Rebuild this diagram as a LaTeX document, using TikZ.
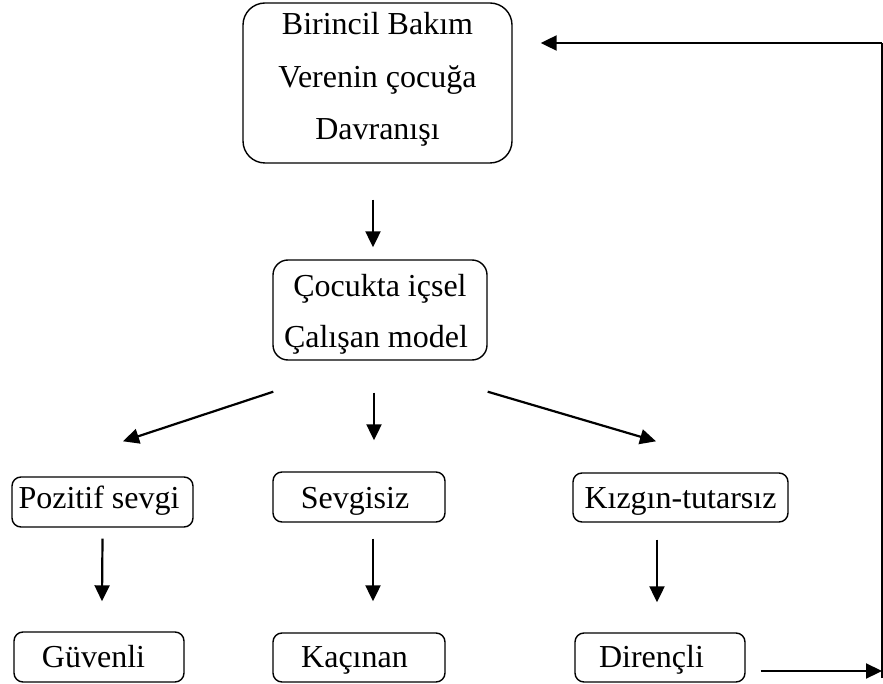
\documentclass[tikz,border=0pt]{standalone}
\usepackage{fontspec}
\setmainfont{Liberation Serif}
\usepackage{tikz}
\usetikzlibrary{arrows.meta}

\tikzset{
  kutu/.style={draw, line width=1.4pt, rounded corners=9pt, inner sep=0pt, align=center, font=\fontsize{32}{51}\selectfont},
  ok/.style={line width=2.2pt, -{Triangle[length=16pt,width=15pt]}},
  cizgi/.style={line width=2.2pt}
}

\begin{document}
\begin{tikzpicture}[x=1pt,y=-1pt]
\useasboundingbox (0,0) rectangle (883,684);
\node [kutu, rounded corners=22pt, minimum width=269pt, minimum height=160pt, font=\fontsize{32}{52.5}\selectfont] (bakim) at (377.5,83) {\rule{0pt}{24pt}Birincil Bakım\\Verenin çocuğa\\Davranışı\rule[-15pt]{0pt}{15pt}};
\node [kutu, rounded corners=15pt, minimum width=214pt, minimum height=100pt] (model) at (380,310) {\rule{0pt}{34pt}Çocukta içsel\\Çalışan model\rule[-9pt]{0pt}{9pt}\hspace*{8pt}};
\node [kutu, minimum width=181pt, minimum height=50pt, text height=21pt, text depth=9pt] (pozitif) at (102.5,502) {Pozitif sevgi\hspace*{7pt}};
\node [kutu, minimum width=172pt, minimum height=50pt, text height=26pt, text depth=4pt] (sevgisiz) at (359,497) {Sevgisiz\hspace*{8pt}};
\node [kutu, minimum width=215pt, minimum height=49pt, text height=25.5pt, text depth=4.5pt] (kizgin) at (680.5,497.5) {Kızgın-tutarsız};
\node [kutu, minimum width=170pt, minimum height=50pt, text height=25pt, text depth=5pt] (guvenli) at (99,657) {Güvenli\hspace*{11pt}};
\node [kutu, minimum width=172pt, minimum height=49pt, text height=24.5pt, text depth=5.5pt] (kacinan) at (359,657.5) {Kaçınan\hspace*{9pt}};
\node [kutu, minimum width=170pt, minimum height=49pt, text height=24.5pt, text depth=5.5pt] (direncli) at (660,657.5) {Dirençli\hspace*{17pt}};
\coordinate (kose1) at (882,671);
\coordinate (kose2) at (882,43);
\draw [ok] ([xshift=-4.5pt,yshift=-36pt]bakim.south) -- ([xshift=-7pt,yshift=12pt]model.north);
\draw [ok] ([xshift=1pt,yshift=-31pt]model.south west) -- ([xshift=20.5pt,yshift=35pt]pozitif.north);
\draw [ok] ([xshift=-6pt,yshift=-32pt]model.south) -- ([xshift=15pt,yshift=31pt]sevgisiz.north);
\draw [ok] ([yshift=-31pt]model.south east) -- ([xshift=-24.5pt,yshift=31pt]kizgin.north);
\draw [ok] ([yshift=-11pt]pozitif.south) -- ([xshift=3pt,yshift=30pt]guvenli.north);
\draw [ok] ([xshift=14pt,yshift=-16pt]sevgisiz.south) -- ([xshift=14pt,yshift=31pt]kacinan.north);
\draw [ok] ([xshift=-23.5pt,yshift=-17pt]kizgin.south) -- ([xshift=-3pt,yshift=30pt]direncli.north);
\draw [ok] ([xshift=15pt,yshift=-13.5pt]direncli.east) -- (kose1);
\draw [cizgi, shorten <=-7pt] (kose1) -- (kose2);
\draw [ok] (kose2) -- ([xshift=28pt,yshift=40pt]bakim.east);
\end{tikzpicture}
\end{document}
